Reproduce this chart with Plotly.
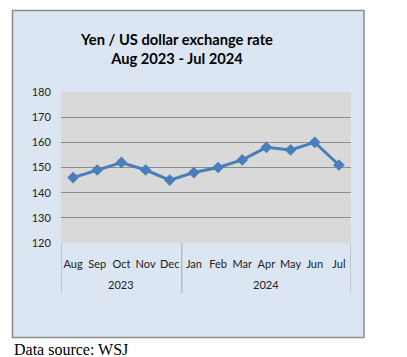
import plotly.graph_objects as go

months = ["Aug", "Sep", "Oct", "Nov", "Dec", "Jan", "Feb", "Mar", "Apr", "May", "Jun", "Jul"]
years = ["2023"] * 5 + ["2024"] * 7
rates = [146, 149, 152, 149, 145, 148, 150, 153, 158, 157, 160, 151]
y_ticks = [120, 130, 140, 150, 160, 170, 180]

W, H = 407, 357
L, R, T, B = 61, 351, 92, 243
pw, ph = R - L, B - T

def px_x(x):
    return (x - L) / pw

def px_y(y):
    return (B - y) / ph

fig = go.Figure()
fig.add_trace(go.Scatter(
    x=months, y=rates, mode="lines+markers",
    line=dict(color="#4A7EBB", width=3),
    marker=dict(symbol="diamond", size=9, color="#4A7EBB"),
    showlegend=False, hoverinfo="x+y",
))

fig.add_shape(type="rect", xref="paper", yref="paper",
              x0=px_x(12.5), x1=px_x(364), y0=px_y(337.5), y1=px_y(10.5),
              fillcolor="#DCE6F2", line=dict(color="#8C8C8C", width=1.5), layer="below")
fig.add_shape(type="rect", xref="paper", yref="paper",
              x0=0, x1=1, y0=0, y1=1,
              fillcolor="#D9D9D9", line=dict(width=0), layer="below")

# year group labels and dividers, derived from the years list
groups = []
for i, yv in enumerate(years):
    if not groups or groups[-1][0] != yv:
        groups.append([yv, i, i])
    else:
        groups[-1][2] = i
edges = [-0.5] + [g[2] + 0.5 for g in groups]
for e in edges:
    fig.add_shape(type="line", xref="x", yref="paper", x0=e, x1=e,
                  y0=0, y1=px_y(293), line=dict(color="#A6A6A6", width=1))
for yv, a, b in groups:
    fig.add_annotation(xref="x", yref="paper", x=(a + b) / 2, y=px_y(284),
                       text=yv, showarrow=False, font=dict(family="Lato", size=11, color="#222"),
                       xanchor="center", yanchor="middle")

fig.add_annotation(xref="paper", yref="paper", x=px_x(176), y=px_y(48),
                   text="<b>Yen / US dollar exchange rate<br>Aug 2023 - Jul 2024</b>",
                   showarrow=False, font=dict(family="Lato", size=14.7, color="#000"),
                   xanchor="center", yanchor="middle", align="center")
fig.add_annotation(xref="paper", yref="paper", x=px_x(12), y=px_y(349),
                   text="Data source: WSJ", showarrow=False,
                   font=dict(family="Liberation Serif", size=16, color="#000"),
                   xanchor="left", yanchor="middle")

fig.update_layout(
    width=W, height=H,
    margin=dict(l=L, r=W - R, t=T, b=H - B, autoexpand=False),
    paper_bgcolor="white", plot_bgcolor="#D9D9D9",
    font=dict(family="Lato", size=11, color="#222"),
)
fig.update_xaxes(type="category", showgrid=False, zeroline=False,
                 tickangle=0, automargin=False, range=[-0.5, len(months) - 0.5],
                 ticks="outside", ticklen=11, tickcolor="rgba(0,0,0,0)",
                 tickfont=dict(size=11, color="#222"), showline=False)
fig.update_yaxes(range=[120, 180], tickvals=y_ticks, showgrid=True, gridcolor="#8C8C8C",
                 gridwidth=1, zeroline=False, ticks="outside", ticklen=7,
                 tickcolor="rgba(0,0,0,0)", tickfont=dict(size=11, color="#222"),
                 showline=False, automargin=False)

fig.write_html("out.html", config={"displayModeBar": False},
               post_script="document.body.style.margin='0px';")
